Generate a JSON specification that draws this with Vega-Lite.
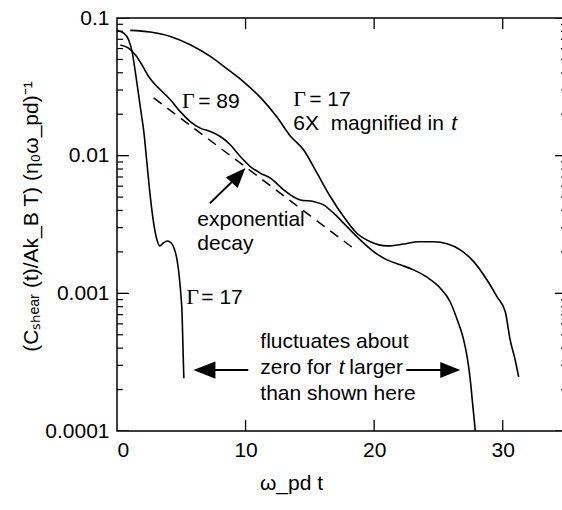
{
  "$schema": "https://vega.github.io/schema/vega-lite/v6.json",
  "width": 450,
  "height": 413,
  "autosize": {"type": "none"},
  "padding": {"left": 117, "top": 18, "right": 0, "bottom": 79},
  "background": "white",
  "config": {
    "view": {"stroke": "black", "strokeWidth": 1.5},
    "axis": {
      "grid": false,
      "labelFont": "Liberation Sans",
      "labelFontSize": 21,
      "labelColor": "black",
      "titleFont": "Liberation Sans",
      "titleFontSize": 21,
      "titleFontWeight": "normal",
      "titleColor": "black"
    }
  },
  "datasets": {
    "ymajor": [{"v": 0.0001}, {"v": 0.001}, {"v": 0.01}, {"v": 0.1}],
    "yminor": [{"v": 0.0002}, {"v": 0.0003}, {"v": 0.0004}, {"v": 0.0005}, {"v": 0.0006}, {"v": 0.0007}, {"v": 0.0008}, {"v": 0.0009},
               {"v": 0.002}, {"v": 0.003}, {"v": 0.004}, {"v": 0.005}, {"v": 0.006}, {"v": 0.007}, {"v": 0.008}, {"v": 0.009},
               {"v": 0.02}, {"v": 0.03}, {"v": 0.04}, {"v": 0.05}, {"v": 0.06}, {"v": 0.07}, {"v": 0.08}, {"v": 0.09}],
    "xmajor": [{"v": 10}, {"v": 20}, {"v": 30}]
  },
  "layer": [
    {
      "data": {"values": [
        {"s": "G17", "x": 0, "y": 0.0813}, {"s": "G17", "x": 0.51, "y": 0.0778}, {"s": "G17", "x": 0.9, "y": 0.0695},
        {"s": "G17", "x": 1.17, "y": 0.0572}, {"s": "G17", "x": 1.42, "y": 0.0409}, {"s": "G17", "x": 1.68, "y": 0.0277},
        {"s": "G17", "x": 1.94, "y": 0.0187}, {"s": "G17", "x": 2.07, "y": 0.0154}, {"s": "G17", "x": 2.33, "y": 0.00881},
        {"s": "G17", "x": 2.59, "y": 0.00504}, {"s": "G17", "x": 2.85, "y": 0.00323}, {"s": "G17", "x": 3.11, "y": 0.00244},
        {"s": "G17", "x": 3.33, "y": 0.00221}, {"s": "G17", "x": 3.6, "y": 0.00232}, {"s": "G17", "x": 3.91, "y": 0.0024},
        {"s": "G17", "x": 4.22, "y": 0.00232}, {"s": "G17", "x": 4.46, "y": 0.0021}, {"s": "G17", "x": 4.67, "y": 0.00175},
        {"s": "G17", "x": 4.87, "y": 0.00125}, {"s": "G17", "x": 4.98, "y": 0.000944}, {"s": "G17", "x": 5.06, "y": 0.000716},
        {"s": "G17", "x": 5.13, "y": 0.000409}, {"s": "G17", "x": 5.18, "y": 0.000277}, {"s": "G17", "x": 5.2, "y": 0.000242},

        {"s": "G89", "x": 0.26, "y": 0.0637}, {"s": "G89", "x": 0.9, "y": 0.0605}, {"s": "G89", "x": 1.42, "y": 0.0541},
        {"s": "G89", "x": 1.94, "y": 0.0457}, {"s": "G89", "x": 2.46, "y": 0.0376}, {"s": "G89", "x": 2.98, "y": 0.0327},
        {"s": "G89", "x": 3.37, "y": 0.0301}, {"s": "G89", "x": 4.15, "y": 0.0255}, {"s": "G89", "x": 4.92, "y": 0.0209},
        {"s": "G89", "x": 5.7, "y": 0.0177}, {"s": "G89", "x": 6.48, "y": 0.01585}, {"s": "G89", "x": 7.26, "y": 0.01497},
        {"s": "G89", "x": 8.03, "y": 0.01377}, {"s": "G89", "x": 8.81, "y": 0.012}, {"s": "G89", "x": 9.59, "y": 0.00985},
        {"s": "G89", "x": 10.37, "y": 0.00833}, {"s": "G89", "x": 11.15, "y": 0.00746}, {"s": "G89", "x": 11.93, "y": 0.00686},
        {"s": "G89", "x": 12.96, "y": 0.00564}, {"s": "G89", "x": 13.48, "y": 0.00519}, {"s": "G89", "x": 14.26, "y": 0.00477},
        {"s": "G89", "x": 15.29, "y": 0.00464}, {"s": "G89", "x": 16.07, "y": 0.00439}, {"s": "G89", "x": 16.85, "y": 0.00382},
        {"s": "G89", "x": 17.89, "y": 0.00305}, {"s": "G89", "x": 18.93, "y": 0.00244}, {"s": "G89", "x": 19.96, "y": 0.00201},
        {"s": "G89", "x": 21.0, "y": 0.00175}, {"s": "G89", "x": 22.04, "y": 0.00161}, {"s": "G89", "x": 23.07, "y": 0.00148},
        {"s": "G89", "x": 24.11, "y": 0.00131}, {"s": "G89", "x": 25.15, "y": 0.00109}, {"s": "G89", "x": 25.92, "y": 0.000865},
        {"s": "G89", "x": 26.47, "y": 0.00064}, {"s": "G89", "x": 26.93, "y": 0.000473}, {"s": "G89", "x": 27.25, "y": 0.000338},
        {"s": "G89", "x": 27.48, "y": 0.000234}, {"s": "G89", "x": 27.67, "y": 0.000154}, {"s": "G89", "x": 27.87, "y": 0.0001},

        {"s": "G17x6", "x": 1.03, "y": 0.0813}, {"s": "G17x6", "x": 2.59, "y": 0.0791}, {"s": "G17x6", "x": 4.15, "y": 0.0735},
        {"s": "G17x6", "x": 5.7, "y": 0.064}, {"s": "G17x6", "x": 7.26, "y": 0.0526}, {"s": "G17x6", "x": 8.56, "y": 0.0427},
        {"s": "G17x6", "x": 9.85, "y": 0.0344}, {"s": "G17x6", "x": 11.15, "y": 0.0265}, {"s": "G17x6", "x": 12.44, "y": 0.0191},
        {"s": "G17x6", "x": 13.48, "y": 0.0139}, {"s": "G17x6", "x": 14.52, "y": 0.011}, {"s": "G17x6", "x": 15.56, "y": 0.00746},
        {"s": "G17x6", "x": 16.59, "y": 0.00505}, {"s": "G17x6", "x": 17.62, "y": 0.00361}, {"s": "G17x6", "x": 18.66, "y": 0.00273},
        {"s": "G17x6", "x": 19.7, "y": 0.00237}, {"s": "G17x6", "x": 21.0, "y": 0.00221}, {"s": "G17x6", "x": 22.29, "y": 0.00228},
        {"s": "G17x6", "x": 23.46, "y": 0.00237}, {"s": "G17x6", "x": 24.62, "y": 0.00237}, {"s": "G17x6", "x": 25.67, "y": 0.00229},
        {"s": "G17x6", "x": 26.7, "y": 0.00207}, {"s": "G17x6", "x": 27.74, "y": 0.0017}, {"s": "G17x6", "x": 28.78, "y": 0.00125},
        {"s": "G17x6", "x": 29.56, "y": 0.000944}, {"s": "G17x6", "x": 30.2, "y": 0.000735}, {"s": "G17x6", "x": 30.58, "y": 0.000458},
        {"s": "G17x6", "x": 30.97, "y": 0.000328}, {"s": "G17x6", "x": 31.24, "y": 0.000247}
      ]},
      "mark": {"type": "line", "color": "black", "strokeWidth": 1.6, "interpolate": "monotone"},
      "encoding": {
        "x": {"field": "x", "type": "quantitative",
          "scale": {"type": "linear", "domain": [0, 35], "nice": false, "zero": false},
          "axis": {"orient": "bottom", "values": [0, 10, 20, 30], "ticks": false, "domain": false, "labelPadding": 8,
            "title": "ω_pd t", "titleX": 174, "titleY": 58, "titleBaseline": "alphabetic", "titleAlign": "center"}},
        "y": {"field": "y", "type": "quantitative",
          "scale": {"type": "log", "domain": [0.0001, 0.1], "nice": false},
          "axis": {"orient": "left", "values": [0.0001, 0.001, 0.01, 0.1], "ticks": false, "domain": false, "labelPadding": 8,
            "labelExpr": "datum.value >= 0.1 ? '0.1' : datum.value >= 0.01 ? '0.01' : datum.value >= 0.001 ? '0.001' : '0.0001'",
            "title": "(Cₛₕₑₐᵣ (t)/Ak_B T) (η₀ω_pd)⁻¹", "titleAngle": 270, "titleX": -80, "titleY": 198,
            "titleBaseline": "alphabetic", "titleAlign": "center"}},
        "detail": {"field": "s", "type": "nominal"}
      }
    },
    {
      "data": {"values": [{"x": 2.85, "y": 0.0263}, {"x": 18.61, "y": 0.00205}]},
      "mark": {"type": "line", "color": "black", "strokeWidth": 1.5, "strokeDash": [10, 7]},
      "encoding": {
        "x": {"field": "x", "type": "quantitative"},
        "y": {"field": "y", "type": "quantitative"}
      }
    },
    {
      "data": {"name": "ymajor"},
      "mark": {"type": "tick", "orient": "horizontal", "size": 24, "thickness": 1.3, "color": "black", "opacity": 1, "clip": true},
      "encoding": {
        "x": {"datum": 0, "type": "quantitative"},
        "y": {"field": "v", "type": "quantitative"}
      }
    },
    {
      "data": {"name": "ymajor"},
      "mark": {"type": "tick", "orient": "horizontal", "size": 24, "thickness": 1.3, "color": "black", "opacity": 1, "clip": true},
      "encoding": {
        "x": {"datum": 35, "type": "quantitative"},
        "y": {"field": "v", "type": "quantitative"}
      }
    },
    {
      "data": {"name": "yminor"},
      "mark": {"type": "tick", "orient": "horizontal", "size": 12, "thickness": 1.2, "color": "black", "opacity": 1, "clip": true},
      "encoding": {
        "x": {"datum": 0, "type": "quantitative"},
        "y": {"field": "v", "type": "quantitative"}
      }
    },
    {
      "data": {"name": "yminor"},
      "mark": {"type": "tick", "orient": "horizontal", "size": 12, "thickness": 1.2, "color": "black", "opacity": 1, "clip": true},
      "encoding": {
        "x": {"datum": 35, "type": "quantitative"},
        "y": {"field": "v", "type": "quantitative"}
      }
    },
    {
      "data": {"name": "xmajor"},
      "mark": {"type": "tick", "orient": "vertical", "size": 22, "thickness": 1.3, "color": "black", "opacity": 1, "clip": true},
      "encoding": {
        "x": {"field": "v", "type": "quantitative"},
        "y": {"datum": 0.0001, "type": "quantitative"}
      }
    },
    {
      "data": {"name": "xmajor"},
      "mark": {"type": "tick", "orient": "vertical", "size": 22, "thickness": 1.3, "color": "black", "opacity": 1, "clip": true},
      "encoding": {
        "x": {"field": "v", "type": "quantitative"},
        "y": {"datum": 0.1, "type": "quantitative"}
      }
    },
    {
      "data": {"values": [
        {"x": 7.22, "y": 0.0045, "x2": 9.46, "y2": 0.0072},
        {"x": 10.21, "y": 0.000277, "x2": 6.9, "y2": 0.000277},
        {"x": 22.5, "y": 0.000277, "x2": 25.8, "y2": 0.000277}
      ]},
      "mark": {"type": "rule", "color": "black", "strokeWidth": 2},
      "encoding": {
        "x": {"field": "x", "type": "quantitative"},
        "y": {"field": "y", "type": "quantitative"},
        "x2": {"field": "x2"},
        "y2": {"field": "y2"}
      }
    },
    {
      "data": {"values": [{"x": 6.8, "y": 0.000277}]},
      "mark": {"type": "point", "shape": "M 1 0 L -1 0.78 L -1 -0.78 Z", "size": 484, "angle": 180, "filled": true, "opacity": 1, "color": "black", "strokeWidth": 0},
      "encoding": {
        "x": {"field": "x", "type": "quantitative"},
        "y": {"field": "y", "type": "quantitative"}
      }
    },
    {
      "data": {"values": [{"x": 25.92, "y": 0.000277}]},
      "mark": {"type": "point", "shape": "M 1 0 L -1 0.8 L -1 -0.8 Z", "size": 400, "angle": 0, "filled": true, "opacity": 1, "color": "black", "strokeWidth": 0},
      "encoding": {
        "x": {"field": "x", "type": "quantitative"},
        "y": {"field": "y", "type": "quantitative"}
      }
    },
    {
      "data": {"values": [{"x": 9.46, "y": 0.0072}]},
      "mark": {"type": "point", "shape": "M 1 0 L -1 0.8 L -1 -0.8 Z", "size": 400, "angle": 313, "filled": true, "opacity": 1, "color": "black", "strokeWidth": 0},
      "encoding": {
        "x": {"field": "x", "type": "quantitative"},
        "y": {"field": "y", "type": "quantitative"}
      }
    },
    {
      "data": {"values": [
        {"x": 6.32, "y": 0.0223, "label": "= 89"},
        {"x": 14.95, "y": 0.023, "label": "= 17"},
        {"x": 13.71, "y": 0.01542, "label": "6X\u00a0 magnified in"},
        {"x": 6.25, "y": 0.003083, "label": "exponential"},
        {"x": 6.25, "y": 0.002065, "label": "decay"},
        {"x": 6.56, "y": 0.000835, "label": "= 17"},
        {"x": 11.15, "y": 0.0004, "label": "fluctuates about"},
        {"x": 11.15, "y": 0.000259, "label": "zero for"},
        {"x": 18.07, "y": 0.000259, "label": "larger"},
        {"x": 11.15, "y": 0.000168, "label": "than shown here"}
      ]},
      "mark": {"type": "text", "align": "left", "baseline": "alphabetic", "font": "Liberation Sans", "fontSize": 21, "color": "black"},
      "encoding": {
        "x": {"field": "x", "type": "quantitative"},
        "y": {"field": "y", "type": "quantitative"},
        "text": {"field": "label"}
      }
    },
    {
      "data": {"values": [
        {"x": 5.05, "y": 0.0223, "label": "Γ"},
        {"x": 13.71, "y": 0.023, "label": "Γ"},
        {"x": 5.39, "y": 0.000835, "label": "Γ"}
      ]},
      "mark": {"type": "text", "align": "left", "baseline": "alphabetic", "font": "Liberation Serif", "fontSize": 22, "color": "black"},
      "encoding": {
        "x": {"field": "x", "type": "quantitative"},
        "y": {"field": "y", "type": "quantitative"},
        "text": {"field": "label"}
      }
    },
    {
      "data": {"values": [
        {"x": 26.0, "y": 0.01542, "label": "t"},
        {"x": 17.25, "y": 0.000259, "label": "t"}
      ]},
      "mark": {"type": "text", "align": "left", "baseline": "alphabetic", "font": "Liberation Sans", "fontSize": 21, "fontStyle": "italic", "color": "black"},
      "encoding": {
        "x": {"field": "x", "type": "quantitative"},
        "y": {"field": "y", "type": "quantitative"},
        "text": {"field": "label"}
      }
    }
  ]
}
